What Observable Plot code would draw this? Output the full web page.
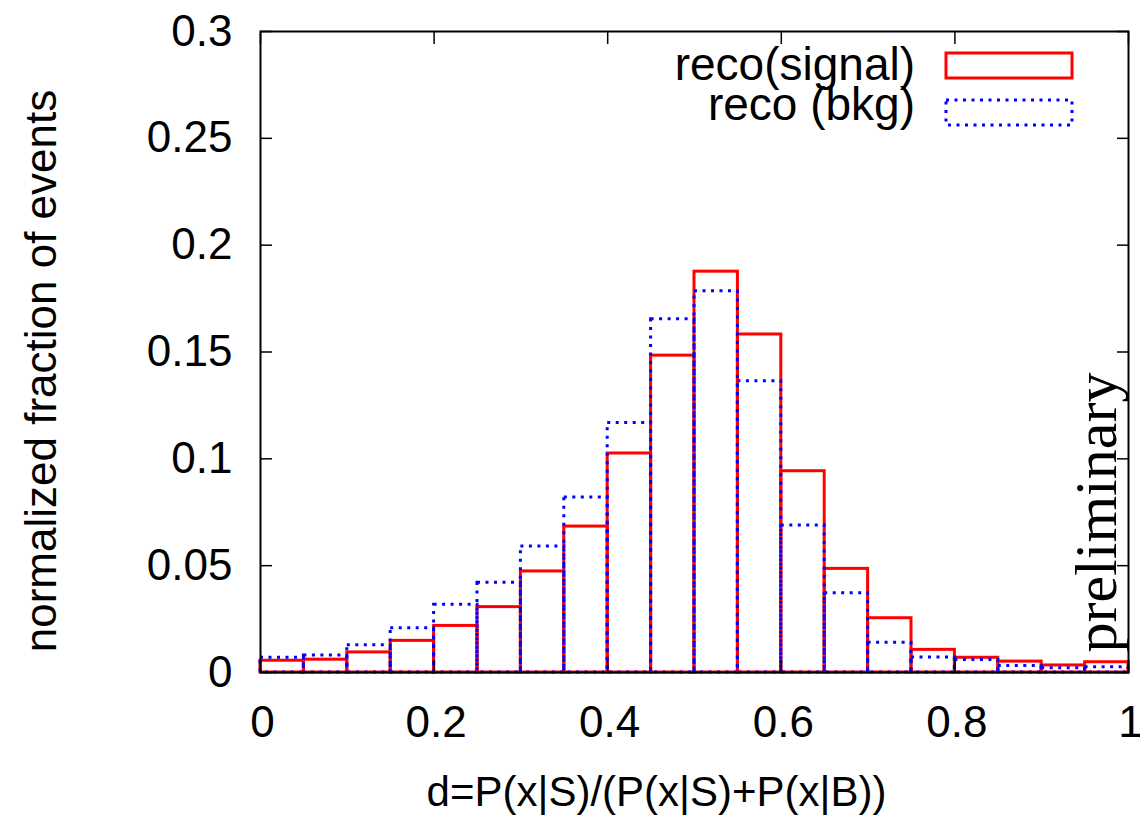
<!DOCTYPE html>
<html>
<head>
<meta charset="utf-8">
<script src="https://cdn.jsdelivr.net/npm/d3@7"></script>
<script src="https://cdn.jsdelivr.net/npm/@observablehq/plot@0.6"></script>
<style>
  html, body { margin: 0; padding: 0; background: #fff; }
  #chart svg { display: block; }
</style>
</head>
<body>
<div id="chart"></div>
<script>
// ---- data ----
const binStart = [0, 0.05, 0.1, 0.15, 0.2, 0.25, 0.3, 0.35, 0.4, 0.45, 0.5, 0.55, 0.6, 0.65, 0.7, 0.75, 0.8, 0.85, 0.9, 0.95];
const binWidth = 0.05;
const signal = [0.0055, 0.006, 0.0094, 0.0148, 0.0218, 0.0306, 0.0473, 0.0683, 0.1025, 0.1483, 0.1876, 0.1582, 0.0942, 0.0485, 0.0254, 0.0106, 0.0069, 0.0051, 0.0033, 0.0048];
const bkg = [0.0069, 0.008, 0.0128, 0.0207, 0.0317, 0.042, 0.059, 0.0819, 0.1168, 0.1653, 0.1784, 0.1363, 0.0688, 0.0371, 0.0139, 0.007, 0.0058, 0.0031, 0.002, 0.0025];
const seriesNames = ["reco(signal)", "reco (bkg)"];
const yTicks = [0, 0.05, 0.1, 0.15, 0.2, 0.25, 0.3];
const yTickLabels = ["0", "0.05", "0.1", "0.15", "0.2", "0.25", "0.3"];
const xTicks = [0, 0.2, 0.4, 0.6, 0.8, 1];
const xTickLabels = ["0", "0.2", "0.4", "0.6", "0.8", "1"];
const xLabel = "d=P(x|S)/(P(x|S)+P(x|B))";
const yLabel = "normalized fraction of events";
const watermark = "preliminary";

const sigData = binStart.map((x, i) => ({x1: x, x2: x + binWidth, y: signal[i]}));
const bkgData = binStart.map((x, i) => ({x1: x, x2: x + binWidth, y: bkg[i]}));

const SANS = "'Liberation Sans', Arial, Helvetica, sans-serif";
const SERIF = "'Liberation Serif', 'Times New Roman', serif";
const RED = "#ff0000";
const BLUE = "#0000ff";

const W = 1140, H = 817;
const mL = 260, mR = 12, mT = 31, mB = 145;

const fmtY = d => yTickLabels[yTicks.findIndex(t => Math.abs(t - d) < 1e-9)];
const fmtX = d => xTickLabels[xTicks.findIndex(t => Math.abs(t - d) < 1e-9)];

const svg = Plot.plot({
  width: W,
  height: H,
  marginLeft: mL,
  marginRight: mR,
  marginTop: mT,
  marginBottom: mB,
  style: {fontFamily: SANS, background: "#fff", overflow: "visible"},
  x: {domain: [0, 1]},
  y: {domain: [0, 0.3]},
  marks: [
    // histogram outlines
    Plot.rect(sigData, {x1: "x1", x2: "x2", y1: 0, y2: "y", inset: 0, fill: "none", stroke: RED, strokeWidth: 3}),
    Plot.rect(bkgData, {x1: "x1", x2: "x2", y1: 0, y2: "y", inset: 0, fill: "none", stroke: BLUE, strokeWidth: 3, strokeDasharray: "3,5.5"}),
    // tick labels
    Plot.axisY(yTicks, {anchor: "left", tickSize: 0, tickPadding: 28, tickFormat: fmtY, fontSize: 44, fill: "#000", label: null}),
    Plot.axisX(xTicks, {anchor: "bottom", tickSize: 0, tickPadding: 33, tickFormat: fmtX, fontSize: 44, fill: "#000", label: null, dx: 2}),
    // inward ticks on all four sides
    Plot.axisY(yTicks, {anchor: "left", tickSize: 12, dx: 12, text: null, label: null, stroke: "#000", strokeWidth: 1.5}),
    Plot.axisY(yTicks, {anchor: "right", tickSize: 12, dx: -12, text: null, label: null, stroke: "#000", strokeWidth: 1.5}),
    Plot.axisX(xTicks, {anchor: "bottom", tickSize: 12, dy: -12, text: null, label: null, stroke: "#000", strokeWidth: 1.5}),
    Plot.axisX(xTicks, {anchor: "top", tickSize: 12, dy: 12, text: null, label: null, stroke: "#000", strokeWidth: 1.5}),
    Plot.frame({stroke: "#000", strokeWidth: 2}),
    // axis titles
    Plot.text([xLabel], {text: d => d, frameAnchor: "bottom", textAnchor: "middle", dx: -38, dy: 133, lineAnchor: "bottom", fontSize: 42, fill: "#000"}),
    Plot.text([yLabel], {text: d => d, frameAnchor: "left", textAnchor: "middle", rotate: -90, dx: -205, dy: 19, lineAnchor: "bottom", fontSize: 44, fill: "#000"}),
    // watermark
    Plot.text([watermark], {text: d => d, frameAnchor: "bottom-right", rotate: -90, textAnchor: "start", lineAnchor: "bottom", dx: -13, dy: -20, fontSize: 60, fontFamily: SERIF, fill: "#000"})
  ]
});

// legend (inside the frame, top-right)
const g = d3.select(svg).append("g").attr("class", "legend");
const legendItems = [
  {name: seriesNames[0], stroke: RED, dash: null, textY: 80, boxY: 53},
  {name: seriesNames[1], stroke: BLUE, dash: "3,5.5", textY: 120, boxY: 100}
];
legendItems.forEach(it => {
  g.append("text")
    .attr("x", 915).attr("y", it.textY)
    .attr("text-anchor", "end")
    .attr("font-family", SANS).attr("font-size", 46).attr("fill", "#000")
    .text(it.name);
  g.append("rect")
    .attr("x", 946).attr("y", it.boxY).attr("width", 126).attr("height", 25)
    .attr("fill", "none").attr("stroke", it.stroke).attr("stroke-width", 3)
    .attr("stroke-dasharray", it.dash);
});

document.getElementById("chart").appendChild(svg);
</script>
</body>
</html>
